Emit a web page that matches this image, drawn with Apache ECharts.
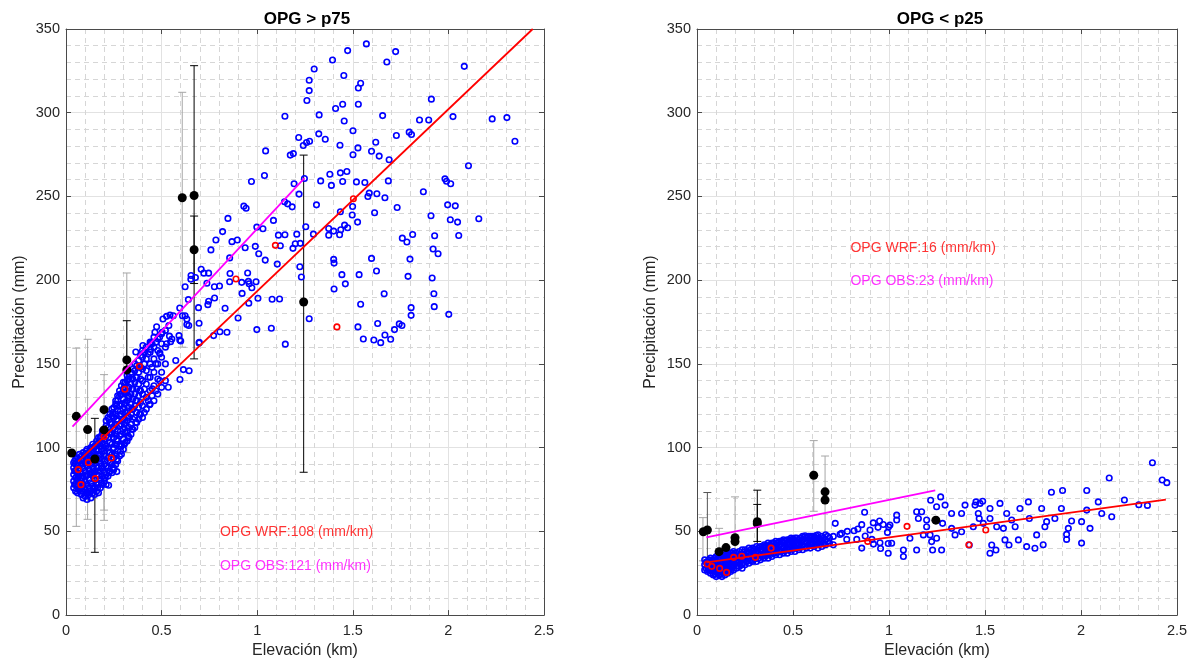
<!DOCTYPE html>
<html>
<head>
<meta charset="utf-8">
<script src="https://cdn.jsdelivr.net/npm/echarts@6/dist/echarts.min.js"></script>
<style>
html,body{margin:0;padding:0;background:#fff;}
#chart{width:1195px;height:664px;}
</style>
</head>
<body>
<div id="chart"></div>
<script>
// ---------------- DATA ----------------
const panelTitles = ['OPG > p75', 'OPG < p25'];
const xTicks = [0, 0.5, 1, 1.5, 2, 2.5];
const yTicks = [0, 50, 100, 150, 200, 250, 300, 350];

// Left panel (OPG > p75): WRF grid points (blue)
const leftBlueDense = [
[0.04,76],[0.04,80],[0.04,84],[0.04,88],[0.04,91],
[0.05,74],[0.05,78],[0.05,82],[0.05,86],[0.05,90],[0.05,93],
[0.06,73],[0.06,77],[0.06,81],[0.06,85],[0.06,89],[0.06,94],
[0.07,75],[0.07,79],[0.07,83],[0.07,87],[0.07,92],[0.07,96],
[0.08,72],[0.08,76],[0.08,80],[0.08,85],[0.08,90],[0.08,95],
[0.09,70],[0.09,74],[0.09,78],[0.09,83],[0.09,88],[0.09,93],[0.09,97],
[0.10,71],[0.10,75],[0.10,80],[0.10,86],[0.10,91],[0.10,96],
[0.11,69],[0.11,73],[0.11,78],[0.11,84],[0.11,89],[0.11,94],[0.11,99],
[0.12,72],[0.12,76],[0.12,81],[0.12,87],[0.12,92],[0.12,97],
[0.13,70],[0.13,74],[0.13,79],[0.13,85],[0.13,90],[0.13,95],[0.13,100],
[0.14,73],[0.14,77],[0.14,83],[0.14,88],[0.14,93],[0.14,98],[0.14,102],
[0.15,72],[0.15,76],[0.15,81],[0.15,86],[0.15,91],[0.15,96],[0.15,101],
[0.16,74],[0.16,79],[0.16,84],[0.16,89],[0.16,94],[0.16,99],[0.16,104],
[0.17,73],[0.17,78],[0.17,83],[0.17,88],[0.17,93],[0.17,98],[0.17,103],[0.17,106],
[0.18,76],[0.18,81],[0.18,86],[0.18,91],[0.18,96],[0.18,101],[0.18,106],
[0.19,78],[0.19,83],[0.19,88],[0.19,93],[0.19,98],[0.19,103],[0.19,108],[0.19,110],
[0.20,80],[0.20,85],[0.20,90],[0.20,95],[0.20,100],[0.20,105],[0.20,111],
[0.21,78],[0.21,84],[0.21,89],[0.21,95],[0.21,101],[0.21,107],[0.21,113],[0.21,116],
[0.22,83],[0.22,88],[0.22,94],[0.22,100],[0.22,106],[0.22,112],[0.22,118],
[0.23,86],[0.23,91],[0.23,97],[0.23,103],[0.23,109],[0.23,115],[0.23,120],
[0.24,85],[0.24,90],[0.24,96],[0.24,102],[0.24,108],[0.24,114],[0.24,119],[0.24,123],
[0.25,88],[0.25,94],[0.25,100],[0.25,106],[0.25,112],[0.25,118],[0.25,124],
[0.26,90],[0.26,96],[0.26,102],[0.26,108],[0.26,114],[0.26,120],[0.26,126],[0.26,128],
[0.27,92],[0.27,98],[0.27,104],[0.27,110],[0.27,116],[0.27,122],[0.27,128],[0.27,131],
[0.28,95],[0.28,101],[0.28,107],[0.28,113],[0.28,119],[0.28,125],[0.28,131],[0.28,134],
[0.29,96],[0.29,102],[0.29,108],[0.29,114],[0.29,120],[0.29,126],[0.29,132],[0.29,137],
[0.30,99],[0.30,105],[0.30,111],[0.30,117],[0.30,123],[0.30,129],[0.30,135],[0.30,139],
[0.31,103],[0.31,109],[0.31,115],[0.31,121],[0.31,127],[0.31,133],[0.31,139],
[0.32,104],[0.32,110],[0.32,116],[0.32,122],[0.32,128],[0.32,134],[0.32,140],[0.32,143],
[0.33,106],[0.33,112],[0.33,118],[0.33,124],[0.33,130],[0.33,136],[0.33,142],
[0.34,108],[0.34,114],[0.34,120],[0.34,126],[0.34,132],[0.34,138],[0.34,145],
[0.35,111],[0.35,117],[0.35,123],[0.35,129],[0.35,135],[0.35,141],[0.35,147],
[0.36,112],[0.36,118],[0.36,125],[0.36,132],[0.36,139],[0.36,146],[0.36,150],
[0.37,115],[0.37,121],[0.37,128],[0.37,135],[0.37,142],[0.37,149],
[0.38,117],[0.38,124],[0.38,131],[0.38,138],[0.38,145],[0.38,152],
[0.39,120],[0.39,127],[0.39,134],[0.39,141],[0.39,148],[0.39,155],
[0.40,118],[0.40,125],[0.40,132],[0.40,140],[0.40,147],[0.40,154],[0.40,158],
[0.42,123],[0.42,130],[0.42,138],[0.42,146],[0.42,153],[0.42,160],
[0.44,126],[0.44,134],[0.44,142],[0.44,150],[0.44,157],[0.44,163],
[0.46,128],[0.46,137],[0.46,145],[0.46,153],[0.46,160],[0.46,166],
[0.48,132],[0.48,141],[0.48,150],[0.48,158],[0.48,165],
[0.50,136],[0.50,145],[0.50,154],[0.50,162],[0.50,168],
[0.52,140],[0.52,150],[0.52,160],[0.52,170]
];
const leftBlueFill = [
[0.045,78],[0.045,86],[0.045,92],
[0.065,75],[0.065,83],[0.065,91],
[0.085,74],[0.085,82],[0.085,92],
[0.105,73],[0.105,83],[0.105,93],[0.105,98],
[0.125,74],[0.125,84],[0.125,94],[0.125,99],
[0.145,75],[0.145,85],[0.145,95],[0.145,100],
[0.165,76],[0.165,86],[0.165,96],[0.165,102],
[0.185,79],[0.185,89],[0.185,99],[0.185,107],
[0.205,82],[0.205,92],[0.205,102],[0.205,110],
[0.225,85],[0.225,97],[0.225,109],[0.225,117],
[0.245,87],[0.245,99],[0.245,111],[0.245,121],
[0.265,93],[0.265,105],[0.265,117],[0.265,125],
[0.285,98],[0.285,110],[0.285,122],[0.285,132],
[0.305,102],[0.305,114],[0.305,126],[0.305,136],
[0.325,107],[0.325,119],[0.325,131],[0.325,141],
[0.345,111],[0.345,123],[0.345,135],[0.345,144],
[0.365,115],[0.365,128],[0.365,142],
[0.385,120],[0.385,134],[0.385,148],
[0.41,121],[0.41,135],[0.41,150],[0.41,157],
[0.43,128],[0.43,142],[0.43,156],
[0.45,131],[0.45,148],[0.45,162],
[0.47,134],[0.47,150],[0.47,163],
[0.49,140],[0.49,156],[0.49,166]
];
const leftBlueSparse = [
[0.437,125.6],[0.451,135.1],[0.535,136.1],[0.596,140.7],[0.574,152.0],[0.614,146.6],[0.644,145.9],
[0.697,162.9],[0.541,166.6],[0.600,163.7],[0.503,168.9],[0.289,100.9],[0.223,77.5],[0.231,91.7],
[0.249,86.7],[0.266,85.7],
[0.930,244.2],[0.942,243.0],[0.847,236.9],[0.819,229.0],[0.784,224.0],[0.758,218.1],[0.868,223.0],
[0.896,224.0],[0.937,219.4],[0.856,213.3],[0.707,206.5],[0.721,204.2],[0.746,204.2],[0.654,202.8],
[0.653,200.6],[0.677,201.6],[0.623,196.1],[0.737,198.2],[0.776,196.1],[0.803,196.5],[0.858,204.0],
[0.856,199.1],[0.919,198.7],[0.921,192.1],[0.640,188.4],[0.693,183.6],[0.742,185.4],[0.777,189.4],
[0.746,187.4],[0.832,183.2],[0.696,174.3],[0.900,177.4],[0.805,169.2],[0.842,168.9],[0.772,166.9],
[0.696,162.5],[0.595,183.4],[0.609,178.8],[0.632,173.5],[0.526,178.4],[0.544,179.2],[0.561,178.8],
[0.507,176.8],[0.474,172.2],[0.465,168.9],[0.538,172.9],[0.591,166.9],[0.595,164.3],[0.547,163.3],
[0.526,162.0],[0.444,162.4],[0.442,158.6],[0.402,161.0],[0.365,157.1],[0.491,156.7],[0.632,176.8],
[0.642,172.9],[0.623,178.8],[0.554,164.9],
[1.571,341.1],[1.473,337.1],[1.724,336.5],[1.394,331.5],[1.678,330.3],[1.298,326.1],[2.083,327.7],
[1.453,322.2],[1.541,317.6],[1.272,319.4],[1.529,314.8],[1.272,313.2],[1.260,307.3],[1.529,305.1],
[1.447,305.1],[1.410,302.5],[1.911,308.1],[1.145,297.9],[1.324,298.7],[1.656,298.3],[2.024,297.7],
[1.455,295.1],[1.849,295.7],[1.897,295.7],[2.229,296.3],[2.306,297.1],[2.348,283.0],[1.501,289.2],
[1.795,288.4],[1.807,287.0],[1.728,286.4],[1.322,287.4],[1.356,284.2],[1.217,285.2],[1.241,280.4],
[1.258,282.2],[1.274,283.0],[1.433,280.6],[1.527,279.0],[1.620,282.4],[1.598,277.0],[1.638,274.1],
[1.690,271.9],[1.501,274.9],[1.173,274.7],[1.189,275.6],[1.044,277.2],[2.105,268.3],[1.038,262.5],
[1.380,263.3],[1.435,264.1],[1.469,264.9],[1.247,260.7],[0.970,258.9],[1.332,259.3],[1.388,256.6],
[1.447,258.9],[1.519,258.7],[1.563,258.3],[1.686,259.3],[1.982,260.5],[1.990,259.1],[2.012,257.6],
[1.193,257.6],[1.219,251.4],[1.586,252.0],[1.626,251.6],[1.579,250.0],[1.668,249.2],[1.869,252.8],
[1.143,246.8],[1.183,243.8],[1.159,245.6],[1.310,245.0],[1.499,244.0],[1.732,243.4],[1.996,245.0],
[2.036,244.4],[1.614,240.3],[1.435,240.9],[1.497,238.9],[1.909,238.5],[2.010,236.1],[2.048,234.7],
[2.159,236.7],[1.085,235.7],[1.525,234.7],[0.998,231.7],[1.030,230.7],[1.254,231.9],[1.473,231.3],
[1.374,230.9],[1.400,229.3],[1.431,227.1],[1.437,230.1],[1.457,232.9],[1.111,226.9],[1.145,227.1],
[1.207,227.5],[1.294,227.5],[1.374,226.9],[1.813,227.3],[1.928,226.5],[2.054,226.7],[1.759,225.1],
[1.783,222.8],[1.008,215.8],[1.042,212.0],[1.121,220.6],[1.187,219.0],[1.199,221.8],[1.225,222.0],
[1.920,218.6],[1.946,215.8],[1.799,212.6],[1.598,213.0],[1.400,212.4],[1.402,210.2],[1.105,209.6],
[1.223,208.0],[1.231,201.9],[1.624,205.5],[1.443,203.3],[1.533,203.3],[1.789,202.3],[1.915,201.3],
[1.461,197.8],[1.664,191.9],[1.924,191.9],[1.402,194.7],[1.541,185.6],[1.805,183.6],[1.926,184.2],
[1.805,179.0],[2.002,179.6],[1.272,177.0],[1.630,174.1],[1.527,172.1],[1.743,173.9],[1.757,172.9],
[1.718,170.5],[0.994,199.1],[0.958,197.9],[0.972,195.5],[0.956,186.3],[1.004,189.2],[1.078,188.6],
[1.117,188.8],[0.954,199.3],[0.950,204.3],[1.074,171.3],[0.998,170.5],[0.990,220.2],
[1.555,164.9],[1.610,164.3],[1.646,162.7],[1.698,164.7],[1.668,167.3],[1.147,161.8]
];
// Left panel: WRF at station locations (red)
const leftRed = [
[0.064,86.9],[0.078,77.9],[0.117,91.2],[0.153,81.5],[0.199,106.6],[0.237,93.8],[0.308,134.9],
[0.384,148.6],[0.889,200.7],[1.095,220.8],[1.503,248.6],[1.417,172.1]
];
// Left panel: observations (black)
const leftObs = [
[0.030,96.8],[0.054,118.7],[0.113,110.8],[0.151,93.2],[0.199,122.7],[0.199,110.6],[0.318,152.4],
[0.318,146.4],[0.608,249.2],[0.670,250.6],[0.670,218.2],[1.243,187.0]
];
// Left error bars: [x, low, high, shade(0 light grey, 1 black, 2 dark grey)]
const leftErr = [
[0.054,53.0,159.4,0],[0.113,57.2,164.7,0],[0.151,37.5,117.5,1],[0.199,62.7,143.6,0],
[0.199,56.6,110.6,0],[0.318,97.0,204.3,0],[0.318,128.0,175.8,1],[0.608,160.0,312.2,0],
[0.670,153.0,328.1,1],[0.670,198.0,238.3,1],[1.243,85.3,274.7,1]
];
const leftWrfLine = [[0.064,91.8],[2.441,350]];
const leftObsLine = [[0.034,112.5],[1.247,260.9]];
const leftNotes = [['OPG WRF:108 (mm/km)',0.805,49.4],['OPG OBS:121 (mm/km)',0.805,29.1]];

// Right panel (OPG < p25)
const rightBlueDense = [
[0.04,27],[0.04,30],[0.04,33],
[0.055,26],[0.055,29],[0.055,32],
[0.07,25],[0.07,28],[0.07,31],[0.07,34],
[0.085,24],[0.085,27],[0.085,30],[0.085,33],
[0.10,23],[0.10,26],[0.10,29],[0.10,32],[0.10,35],
[0.115,24],[0.115,27],[0.115,30],[0.115,33],[0.115,35],
[0.13,23],[0.13,26],[0.13,29],[0.13,32],[0.13,36],
[0.145,24],[0.145,27],[0.145,30],[0.145,33],[0.145,36],
[0.16,25],[0.16,28],[0.16,31],[0.16,34],[0.16,37],
[0.175,26],[0.175,29],[0.175,32],[0.175,35],[0.175,37],
[0.19,27],[0.19,30],[0.19,33],[0.19,36],[0.19,38],
[0.205,28],[0.205,31],[0.205,34],[0.205,37],
[0.22,29],[0.22,32],[0.22,35],[0.22,38],
[0.235,28],[0.235,30],[0.235,33],[0.235,36],[0.235,39],
[0.25,30],[0.25,33],[0.25,36],[0.25,39],
[0.27,31],[0.27,34],[0.27,37],[0.27,40],
[0.29,32],[0.29,35],[0.29,38],[0.29,40],
[0.31,32],[0.31,35],[0.31,38],[0.31,41],
[0.33,33],[0.33,36],[0.33,39],[0.33,41],
[0.35,34],[0.35,37],[0.35,40],[0.35,42],
[0.37,34],[0.37,37],[0.37,40],[0.37,43],
[0.39,35],[0.39,38],[0.39,41],[0.39,43],
[0.41,36],[0.41,39],[0.41,42],[0.41,44],
[0.43,36],[0.43,39],[0.43,42],[0.43,44],
[0.45,37],[0.45,40],[0.45,43],[0.45,45],
[0.47,37],[0.47,40],[0.47,43],[0.47,45],
[0.49,38],[0.49,41],[0.49,44],[0.49,46],
[0.51,38],[0.51,41],[0.51,44],[0.51,46],
[0.53,39],[0.53,42],[0.53,45],
[0.55,39],[0.55,42],[0.55,45],[0.55,47],
[0.57,40],[0.57,43],[0.57,46],
[0.59,40],[0.59,43],[0.59,46],[0.59,47],
[0.61,41],[0.61,44],[0.61,47],
[0.63,40],[0.63,43],[0.63,46],[0.63,48],
[0.65,41],[0.65,44],[0.65,47],
[0.67,42],[0.67,45],[0.67,48],
[0.69,43],[0.69,46],
[0.71,42],[0.71,47]
];
const rightBlueFill = [
[0.0475,28],[0.0475,31.5],
[0.0625,27],[0.0625,30.5],[0.0625,33],
[0.0775,26.5],[0.0775,29.5],[0.0775,32.5],
[0.0925,24.5],[0.0925,28],[0.0925,31],[0.0925,34],
[0.1075,25],[0.1075,28],[0.1075,31],[0.1075,34],
[0.1225,24.5],[0.1225,28],[0.1225,31],[0.1225,34.5],
[0.1375,25],[0.1375,28],[0.1375,31],[0.1375,34.5],
[0.1525,26],[0.1525,29],[0.1525,32],[0.1525,35.5],
[0.1675,27],[0.1675,30],[0.1675,33],[0.1675,36],
[0.1825,28],[0.1825,31],[0.1825,34],[0.1825,37],
[0.2125,29.5],[0.2125,33],[0.2125,36],
[0.2425,31.5],[0.2425,34.5],[0.2425,37.5],
[0.26,32],[0.26,35],[0.26,38],
[0.28,32.5],[0.28,36],[0.28,39],
[0.30,33.5],[0.30,36.5],[0.30,39.5],
[0.32,34],[0.32,37],[0.32,40],
[0.34,35],[0.34,38],[0.34,41],
[0.36,35.5],[0.36,38.5],[0.36,41.5],
[0.38,36],[0.38,39],[0.38,42],
[0.40,37],[0.40,40],[0.40,43],
[0.42,37.5],[0.42,40.5],[0.42,43],
[0.44,38],[0.44,41],[0.44,44],
[0.46,38.5],[0.46,41.5],[0.46,44.5],
[0.48,39],[0.48,42],[0.48,45],
[0.50,39.5],[0.50,42.5],[0.50,45.5],
[0.52,40],[0.52,43],[0.52,46],
[0.54,40.5],[0.54,43.5],[0.54,46],
[0.56,41],[0.56,44],[0.56,46.5],
[0.58,41.5],[0.58,44.5],[0.58,47],
[0.60,42],[0.60,45],[0.60,47],
[0.62,42],[0.62,45],[0.62,47.5],
[0.64,42.5],[0.64,45.5],
[0.66,43],[0.66,46],
[0.68,44],[0.68,47]
];
const rightBlueSparse = [
[0.563,47.4],[0.720,54.8],[0.873,61.4],[0.858,54.0],[0.838,51.4],[0.818,50.4],[0.783,50.0],
[0.753,48.8],[0.951,56.2],[0.943,52.4],[0.901,50.8],[0.998,52.8],[0.992,49.4],[0.996,42.8],
[0.858,40.0],[0.956,39.8],[0.996,36.9],[0.919,42.4],[0.918,55.1],[0.970,54.1],[0.832,45.2],
[0.780,45.2],[0.745,48.2],[0.876,47.2],[0.953,43.2],[0.911,45.2],
[1.040,59.7],[1.040,56.8],[1.005,53.8],[1.014,42.9],[1.075,38.9],[1.075,35.0],[1.109,45.9],
[1.144,38.9],[1.144,61.7],[1.170,61.7],[1.153,57.7],[1.196,56.8],[1.196,52.8],[1.179,47.9],
[1.214,47.9],[1.222,43.9],[1.248,45.9],[1.227,38.9],[1.274,38.9],[1.217,68.6],[1.269,70.6],
[1.248,64.7],[1.292,65.7],[1.279,54.8],[1.326,60.7],[1.326,51.8],[1.344,47.9],[1.378,49.8],
[1.396,65.7],[1.378,60.7],[1.418,41.9],[1.439,52.8],[1.448,65.7],[1.453,67.6],[1.474,66.7],
[1.488,68.0],[1.465,60.7],[1.470,57.7],[1.491,54.8],[1.526,63.7],[1.526,57.7],[1.526,36.9],
[1.535,41.9],[1.557,38.9],[1.561,52.8],[1.578,66.7],[1.596,51.8],[1.613,60.7],[1.604,44.9],
[1.625,41.9],[1.639,56.8],[1.657,52.8],[1.674,44.9],[1.682,63.7],[1.717,40.9],[1.726,67.6],
[1.731,57.7],[1.760,39.9],[1.769,47.9],[1.795,63.7],[1.803,42.0],[1.812,52.8],[1.821,55.8],
[1.846,73.4],[1.864,57.7],[1.898,63.7],[1.904,74.4],[1.925,45.2],[1.934,51.8],[1.925,48.2],
[1.951,56.2],[2.003,55.8],[2.003,43.0],[2.030,74.4],[2.030,62.7],[2.047,51.8],[2.090,67.6],
[2.108,60.7],[2.160,58.7],[2.147,81.9],
[2.372,91.0],[2.423,80.7],[2.447,79.1],[2.226,68.7],[2.301,65.9],[2.346,65.5]
];
const rightRed = [
[0.053,30.5],[0.077,29.1],[0.118,27.9],[0.154,25.5],[0.191,34.5],[0.233,35.1],[0.304,34.5],
[0.386,40.0],[0.889,44.0],[1.094,53.0],[1.416,42.0],[1.504,50.8]
];
const rightObs = [
[0.033,49.8],[0.054,50.8],[0.115,37.9],[0.151,40.3],[0.198,43.9],[0.198,46.2],[0.314,54.6],
[0.314,55.8],[0.608,83.5],[0.667,73.6],[0.667,68.7],[1.244,56.7]
];
const rightErr = [
[0.031,32.4,58.2,0],[0.054,33.0,73.2,2],[0.115,24.0,51.8,0],[0.198,22.0,70.6,0],
[0.314,39.9,74.6,1],[0.314,44.0,66.1,1],[0.608,62.0,104.2,0],[0.667,45.0,95.0,0]
];
const rightWrfLine = [[0.049,31.5],[2.442,68.9]];
const rightObsLine = [[0.049,46.4],[1.241,74.5]];
const rightNotes = [['OPG WRF:16 (mm/km)',0.799,219.2],['OPG OBS:23 (mm/km)',0.799,199.3]];

// ---------------- CHART ----------------
const FONT = "'Liberation Sans', Arial, Helvetica, sans-serif";
const AX = '#4a4a4a';
const TXT = '#262626';
const shades = ['#a6a6a6', '#000000', '#555555'];

const grids = [
  {left: 66, top: 29, width: 478, height: 588},
  {left: 697, top: 29, width: 480, height: 588}
];

function mainX(gi) {
  return {
    type: 'value', gridIndex: gi, min: xTicks[0], max: xTicks[xTicks.length - 1], interval: 0.5,
    position: 'bottom',
    name: 'Elevación (km)', nameLocation: 'middle', nameGap: 27,
    nameTextStyle: {fontFamily: FONT, fontSize: 16, color: TXT},
    axisLine: {show: true, onZero: false, lineStyle: {color: AX, width: 1}},
    axisTick: {show: true, inside: true, length: 5, lineStyle: {color: AX}},
    axisLabel: {fontFamily: FONT, fontSize: 14.5, color: TXT, margin: 8,
      formatter: v => String(v)},
    splitLine: {show: true, lineStyle: {color: '#e2e2e2', width: 1}},
    minorTick: {show: false, splitNumber: 5},
    minorSplitLine: {show: true, lineStyle: {color: '#d6d6d6', width: 1, type: [5, 4]}}
  };
}
function mirrorX(gi) {
  return {
    type: 'value', gridIndex: gi, min: 0, max: 2.5, interval: 0.5, position: 'top',
    axisLine: {show: true, onZero: false, lineStyle: {color: AX, width: 1}},
    axisTick: {show: true, inside: true, length: 5, lineStyle: {color: AX}},
    axisLabel: {show: false}, splitLine: {show: false}
  };
}
function mainY(gi) {
  return {
    type: 'value', gridIndex: gi, min: yTicks[0], max: yTicks[yTicks.length - 1], interval: 50,
    position: 'left',
    name: 'Precipitación (mm)', nameLocation: 'middle', nameGap: 38,
    nameTextStyle: {fontFamily: FONT, fontSize: 16, color: TXT},
    axisLine: {show: true, onZero: false, lineStyle: {color: AX, width: 1}},
    axisTick: {show: true, inside: true, length: 5, lineStyle: {color: AX}},
    axisLabel: {fontFamily: FONT, fontSize: 14.5, color: TXT, margin: 6},
    splitLine: {show: true, lineStyle: {color: '#e2e2e2', width: 1}},
    minorTick: {show: false, splitNumber: 5},
    minorSplitLine: {show: true, lineStyle: {color: '#d6d6d6', width: 1, type: [5, 4]}}
  };
}
function mirrorY(gi) {
  return {
    type: 'value', gridIndex: gi, min: 0, max: 350, interval: 50, position: 'right',
    axisLine: {show: true, onZero: false, lineStyle: {color: AX, width: 1}},
    axisTick: {show: true, inside: true, length: 5, lineStyle: {color: AX}},
    axisLabel: {show: false}, splitLine: {show: false}
  };
}

function errSeries(data, xi, yi) {
  return {
    type: 'custom', xAxisIndex: xi, yAxisIndex: yi, z: 1, silent: true,
    data: data,
    renderItem: function (params, api) {
      const x = api.value(0), lo = api.value(1), hi = api.value(2);
      const col = shades[api.value(3)];
      const a = api.coord([x, lo]);
      const b = api.coord([x, hi]);
      const w = 4;
      const st = {stroke: col, lineWidth: 1};
      return {
        type: 'group',
        children: [
          {type: 'line', shape: {x1: a[0], y1: a[1], x2: b[0], y2: b[1]}, style: st},
          {type: 'line', shape: {x1: a[0] - w, y1: a[1], x2: a[0] + w, y2: a[1]}, style: st},
          {type: 'line', shape: {x1: b[0] - w, y1: b[1], x2: b[0] + w, y2: b[1]}, style: st}
        ]
      };
    }
  };
}
function hollow(data, color, xi, yi, z) {
  return {
    type: 'scatter', xAxisIndex: xi, yAxisIndex: yi, z: z, data: data,
    symbol: 'circle', symbolSize: 5.5,
    itemStyle: {color: 'rgba(255,255,255,0)', borderColor: color, borderWidth: 1.6, opacity: 1}
  };
}
function filled(data, xi, yi) {
  return {
    type: 'scatter', xAxisIndex: xi, yAxisIndex: yi, z: 4, data: data,
    symbol: 'circle', symbolSize: 9, itemStyle: {color: '#000', opacity: 1}
  };
}
function fitLine(data, color, xi, yi) {
  return {
    type: 'line', xAxisIndex: xi, yAxisIndex: yi, z: 5, data: data,
    showSymbol: false, symbol: 'none', lineStyle: {color: color, width: 1.8}
  };
}
function notes(data, colors, xi, yi) {
  return {
    type: 'scatter', xAxisIndex: xi, yAxisIndex: yi, z: 6, symbolSize: 0, silent: true,
    data: data.map((d, i) => ({value: [d[1], d[2]], name: d[0],
      label: {show: true, position: 'right', distance: 0, formatter: d[0],
        color: colors[i], fontFamily: FONT, fontSize: 14}}))
  };
}

const chart = echarts.init(document.getElementById('chart'), null, {renderer: 'canvas'});
chart.setOption({
  animation: false,
  backgroundColor: '#ffffff',
  title: [
    {text: panelTitles[0], left: 66 + 236, top: 6, textAlign: 'center',
      textStyle: {fontFamily: FONT, fontSize: 17, fontWeight: 'bold', color: '#000'}},
    {text: panelTitles[1], left: 697 + 238, top: 6, textAlign: 'center',
      textStyle: {fontFamily: FONT, fontSize: 17, fontWeight: 'bold', color: '#000'}}
  ],
  grid: grids,
  xAxis: [mainX(0), mirrorX(0), mainX(1), mirrorX(1)],
  yAxis: [mainY(0), mirrorY(0), mainY(1), mirrorY(1)],
  series: [
    errSeries(leftErr, 0, 0),
    hollow(leftBlueDense, '#0000ff', 0, 0, 2),
    hollow(leftBlueFill, '#0000ff', 0, 0, 2),
    hollow(leftBlueSparse, '#0000ff', 0, 0, 2),
    hollow(leftRed, '#ff0000', 0, 0, 3),
    filled(leftObs, 0, 0),
    fitLine(leftWrfLine, '#ff0000', 0, 0),
    fitLine(leftObsLine, '#ff00ff', 0, 0),
    notes(leftNotes, ['#ff0000', '#ff00ff'], 0, 0),

    errSeries(rightErr, 2, 2),
    hollow(rightBlueDense, '#0000ff', 2, 2, 2),
    hollow(rightBlueFill, '#0000ff', 2, 2, 2),
    hollow(rightBlueSparse, '#0000ff', 2, 2, 2),
    hollow(rightRed, '#ff0000', 2, 2, 3),
    filled(rightObs, 2, 2),
    fitLine(rightWrfLine, '#ff0000', 2, 2),
    fitLine(rightObsLine, '#ff00ff', 2, 2),
    notes(rightNotes, ['#ff0000', '#ff00ff'], 2, 2)
  ]
});
</script>
</body>
</html>
